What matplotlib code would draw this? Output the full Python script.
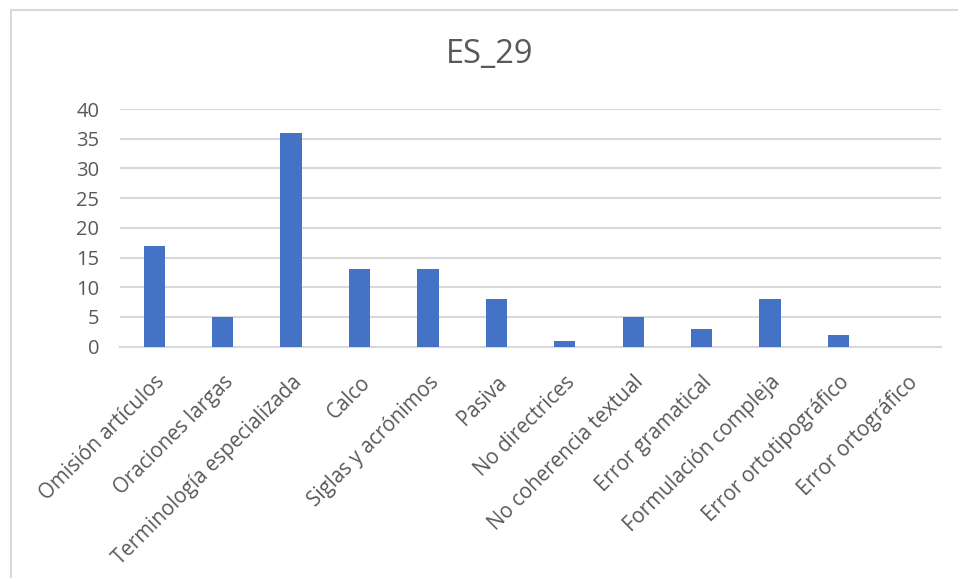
import matplotlib
matplotlib.use("Agg")
import matplotlib.pyplot as plt
from matplotlib.lines import Line2D

categories = [
    "Omisión artículos", "Oraciones largas", "Terminología especializada",
    "Calco", "Siglas y acrónimos", "Pasiva", "No directrices",
    "No coherencia textual", "Error gramatical", "Formulación compleja",
    "Error ortotipográfico", "Error ortográfico",
]
values = [17, 5, 36, 13, 13, 8, 1, 5, 3, 8, 2, 0]
yticks = [0, 5, 10, 15, 20, 25, 30, 35, 40]
title = "ES_29"

text_color = "#595959"
bar_color = "#4472C4"
grid_color = "#D9D9D9"

plt.rcParams["font.family"] = ["Open Sans", "DejaVu Sans"]

fig = plt.figure(figsize=(9.58, 5.78), dpi=100)
ax = fig.add_axes([0.1253, 0.4002, 0.857, 0.4112])

x = list(range(len(categories)))
ax.bar(x, values, width=0.31, color=bar_color, zorder=3)
ax.set_xlim(-0.5, len(categories) - 0.5)
ax.set_ylim(0, 40)
ax.set_yticks(yticks)
ax.set_yticklabels([str(v) for v in yticks], fontsize=14.5, color=text_color)
ax.yaxis.grid(True, color=grid_color, linewidth=1.5, zorder=0)
ax.tick_params(axis="y", length=0, pad=15)
ax.tick_params(axis="x", length=0, pad=18)
ax.set_xticks(x)
ax.set_xticklabels(categories, rotation=45, ha="right", rotation_mode="anchor",
                   fontsize=14.8, color=text_color)
for side in ("top", "right", "left"):
    ax.spines[side].set_visible(False)
ax.spines["bottom"].set_color(grid_color)
ax.spines["bottom"].set_linewidth(1.5)

fig.text(0.5115, 0.905, title, ha="center", va="center", fontsize=23.5, color=text_color)

# chart frame
fig.add_artist(Line2D([0.0115, 0.0115], [0.0, 0.983], color="#D9D9D9", linewidth=1.5,
                      transform=fig.transFigure))
fig.add_artist(Line2D([0.0115, 1.0], [0.983, 0.983], color="#D9D9D9", linewidth=1.5,
                      transform=fig.transFigure))

fig.savefig("out.png", dpi=100, facecolor="white")
